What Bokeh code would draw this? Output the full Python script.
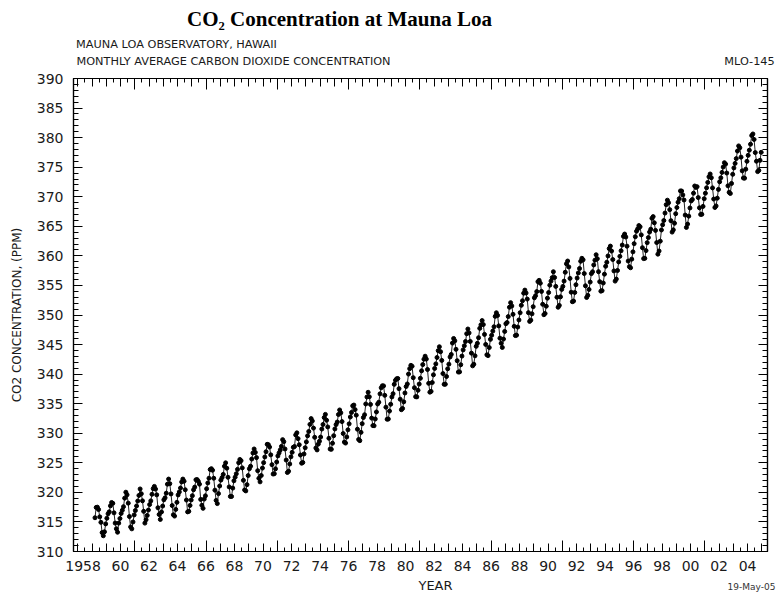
from bokeh.plotting import figure
from bokeh.models import Range1d, FixedTicker, LinearAxis
from bokeh.embed import file_html
from bokeh.resources import INLINE

# ---- Monthly mean CO2 (ppm) at Mauna Loa, one list per year ----
first_month_1958 = 3  # record starts in March 1958
co2_1958 = [315.71, 317.45, 317.50, 317.10, 315.86, 314.93, 313.20, 312.66, 313.33, 314.67]
co2_1959 = [315.62, 316.38, 316.71, 317.72, 318.29, 318.15, 316.54, 314.80, 313.84, 313.26, 314.80, 315.58]
co2_1960 = [316.43, 316.97, 317.58, 319.02, 320.03, 319.59, 318.18, 315.91, 314.16, 313.83, 315.00, 316.19]
co2_1961 = [316.93, 317.70, 318.54, 319.48, 320.58, 319.77, 318.57, 316.79, 314.80, 315.38, 316.10, 317.01]
co2_1962 = [317.94, 318.56, 319.68, 320.63, 321.01, 320.55, 319.58, 317.40, 316.26, 315.42, 316.69, 317.69]
co2_1963 = [318.74, 319.08, 319.86, 321.39, 322.25, 321.47, 319.74, 317.77, 316.21, 315.99, 317.12, 318.31]
co2_1964 = [319.57, 320.07, 320.73, 321.77, 322.25, 321.89, 320.44, 318.70, 316.70, 316.79, 317.79, 318.71]
co2_1965 = [319.44, 320.44, 320.89, 322.13, 322.16, 321.87, 321.39, 318.81, 317.81, 317.30, 318.87, 319.42]
co2_1966 = [320.62, 321.59, 322.39, 323.87, 324.01, 323.75, 322.39, 320.37, 318.64, 318.10, 319.79, 321.08]
co2_1967 = [322.07, 322.50, 323.04, 324.42, 325.00, 324.09, 322.55, 320.92, 319.31, 319.31, 320.72, 321.96]
co2_1968 = [322.57, 323.15, 323.89, 325.02, 325.57, 325.36, 324.14, 322.03, 320.41, 320.25, 321.31, 322.84]
co2_1969 = [324.00, 324.42, 325.64, 326.66, 327.34, 326.76, 325.88, 323.67, 322.38, 321.78, 322.85, 324.11]
co2_1970 = [325.03, 325.99, 326.87, 328.13, 328.07, 327.66, 326.35, 324.69, 323.10, 323.16, 323.98, 325.13]
co2_1971 = [326.17, 326.68, 327.18, 327.78, 328.92, 328.57, 327.34, 325.46, 323.36, 323.57, 324.80, 326.01]
co2_1972 = [326.77, 327.63, 327.75, 329.72, 330.07, 329.09, 328.05, 326.32, 324.93, 325.06, 326.50, 327.55]
co2_1973 = [328.54, 329.56, 330.30, 331.50, 332.48, 332.07, 330.87, 329.31, 327.51, 327.18, 328.16, 328.64]
co2_1974 = [329.35, 330.71, 331.48, 332.65, 333.19, 332.20, 331.07, 329.15, 327.33, 327.28, 328.31, 329.58]
co2_1975 = [330.73, 331.46, 331.90, 333.17, 333.94, 333.45, 331.97, 329.95, 328.50, 328.34, 329.37, 330.58]
co2_1976 = [331.59, 332.75, 333.52, 334.64, 334.77, 334.00, 333.06, 330.68, 328.95, 328.75, 330.15, 331.62]
co2_1977 = [332.66, 333.13, 334.95, 336.13, 336.93, 336.17, 334.88, 332.56, 331.29, 331.27, 332.41, 333.60]
co2_1978 = [334.95, 335.25, 336.66, 337.69, 338.03, 338.01, 336.41, 334.41, 332.37, 332.41, 333.75, 334.90]
co2_1979 = [336.14, 336.69, 338.27, 338.95, 339.21, 339.26, 337.54, 335.75, 333.98, 334.19, 335.31, 336.81]
co2_1980 = [337.90, 338.34, 340.01, 340.93, 341.48, 341.33, 339.40, 337.70, 336.19, 336.15, 337.27, 338.32]
co2_1981 = [339.29, 340.55, 341.61, 342.53, 343.03, 342.54, 340.78, 338.44, 336.95, 337.08, 338.58, 339.88]
co2_1982 = [340.96, 341.73, 342.81, 343.97, 344.63, 343.79, 342.32, 340.09, 338.28, 338.29, 339.60, 340.90]
co2_1983 = [341.68, 342.90, 343.33, 345.25, 346.03, 345.63, 344.19, 342.27, 340.35, 340.38, 341.59, 343.05]
co2_1984 = [344.10, 344.79, 345.52, 346.84, 347.63, 346.97, 345.53, 343.55, 341.40, 341.67, 343.10, 344.70]
co2_1985 = [345.21, 346.16, 347.74, 348.34, 349.06, 348.38, 346.72, 345.02, 343.27, 343.13, 344.49, 345.88]
co2_1986 = [346.56, 347.28, 348.01, 349.77, 350.38, 349.93, 348.16, 346.08, 345.22, 344.51, 345.93, 347.22]
co2_1987 = [348.52, 348.73, 349.73, 351.31, 352.09, 351.53, 350.11, 348.08, 346.52, 346.59, 347.96, 349.16]
co2_1988 = [350.39, 351.64, 352.41, 353.69, 354.21, 353.72, 352.69, 350.40, 348.92, 349.13, 350.20, 351.41]
co2_1989 = [352.91, 353.27, 353.96, 355.64, 355.86, 355.37, 353.99, 351.81, 350.05, 350.25, 351.49, 352.85]
co2_1990 = [353.80, 355.04, 355.73, 356.32, 357.32, 356.34, 354.84, 353.01, 351.31, 351.62, 353.07, 354.33]
co2_1991 = [354.84, 355.73, 357.23, 358.66, 359.13, 358.13, 356.19, 353.85, 352.25, 352.35, 353.81, 355.12]
co2_1992 = [356.25, 357.11, 357.86, 359.09, 359.59, 359.33, 357.01, 354.94, 352.96, 353.32, 354.32, 355.57]
co2_1993 = [357.00, 357.31, 358.47, 359.27, 360.19, 359.52, 357.33, 355.64, 354.03, 354.12, 355.41, 356.91]
co2_1994 = [358.24, 358.92, 359.99, 361.23, 361.65, 360.81, 359.38, 357.46, 355.73, 356.07, 357.53, 358.98]
co2_1995 = [359.92, 360.86, 361.83, 363.30, 363.69, 363.19, 361.64, 359.12, 358.17, 357.99, 359.45, 360.68]
co2_1996 = [362.07, 363.24, 364.17, 364.57, 365.13, 364.92, 363.55, 361.38, 359.54, 359.58, 360.89, 362.24]
co2_1997 = [363.09, 364.03, 364.51, 366.35, 366.64, 365.59, 364.31, 362.25, 360.29, 360.82, 362.49, 364.38]
co2_1998 = [365.26, 365.98, 367.24, 368.66, 369.42, 368.99, 367.82, 365.95, 364.02, 364.40, 365.52, 367.13]
co2_1999 = [368.18, 369.07, 369.68, 370.99, 370.96, 370.30, 369.45, 366.90, 364.81, 365.37, 366.72, 368.10]
co2_2000 = [369.29, 369.54, 370.60, 371.82, 371.58, 371.70, 369.86, 368.13, 367.00, 367.03, 368.37, 369.67]
co2_2001 = [370.59, 371.51, 372.43, 373.37, 373.85, 373.22, 371.50, 369.61, 368.18, 368.45, 369.76, 371.24]
co2_2002 = [372.53, 373.20, 374.12, 375.02, 375.76, 375.52, 374.01, 371.85, 370.75, 370.55, 372.25, 373.79]
co2_2003 = [374.88, 375.64, 376.45, 377.73, 378.60, 378.28, 376.70, 374.38, 373.17, 373.14, 374.66, 375.99]
co2_2004 = [377.00, 377.87, 378.88, 380.35, 380.62, 379.69, 377.47, 376.01, 374.25, 374.46, 376.16, 377.51]

yearly_series = [
    (1958, co2_1958), (1959, co2_1959), (1960, co2_1960), (1961, co2_1961), (1962, co2_1962),
    (1963, co2_1963), (1964, co2_1964), (1965, co2_1965), (1966, co2_1966), (1967, co2_1967),
    (1968, co2_1968), (1969, co2_1969), (1970, co2_1970), (1971, co2_1971), (1972, co2_1972),
    (1973, co2_1973), (1974, co2_1974), (1975, co2_1975), (1976, co2_1976), (1977, co2_1977),
    (1978, co2_1978), (1979, co2_1979), (1980, co2_1980), (1981, co2_1981), (1982, co2_1982),
    (1983, co2_1983), (1984, co2_1984), (1985, co2_1985), (1986, co2_1986), (1987, co2_1987),
    (1988, co2_1988), (1989, co2_1989), (1990, co2_1990), (1991, co2_1991), (1992, co2_1992),
    (1993, co2_1993), (1994, co2_1994), (1995, co2_1995), (1996, co2_1996), (1997, co2_1997),
    (1998, co2_1998), (1999, co2_1999), (2000, co2_2000), (2001, co2_2001), (2002, co2_2002),
    (2003, co2_2003), (2004, co2_2004),
]

year_ticks = list(range(1957, 2006))
half_year_ticks = [y + 0.5 for y in range(1956, 2006)]
five_year_ticks = list(range(1961, 2006, 5))
labelled_years = list(range(1958, 2005, 2))
ppm_major_ticks = list(range(310, 391, 5))
ppm_minor_ticks = list(range(310, 391))

TITLE = "CO\u2082 Concentration at Mauna Loa"
HEADER_1 = "MAUNA LOA OBSERVATORY, HAWAII"
HEADER_2 = "MONTHLY AVERAGE CARBON DIOXIDE CONCENTRATION"
CHART_ID = "MLO-145"
X_TITLE = "YEAR"
Y_TITLE = "CO2 CONCENTRATION, (PPM)"
DATE_STAMP = "19-May-05"

# decimal dates (mid-month)
xs, ys = [], []
for year, vals in yearly_series:
    m0 = first_month_1958 if year == 1958 else 1
    for i, v in enumerate(vals):
        xs.append(year + (m0 + i - 0.5) / 12.0)
        ys.append(v)

# ---- layout ----
X0, X1 = 1956.70, 2005.40
FRAME_W, FRAME_H = 694, 473
PX_PER_YEAR = FRAME_W / (X1 - X0)


def year_at_offset(px):
    """data x lying px pixels right of the frame's left edge (used to place header texts)"""
    return round(X0 + px / PX_PER_YEAR, 4)


FONT = "DejaVu Sans"
SERIF = "Liberation Serif"
INK = "#1a1a1a"

p = figure(frame_width=FRAME_W, frame_height=FRAME_H,
           x_range=Range1d(X0, X1), y_range=Range1d(310, 390),
           output_backend="svg", toolbar_location=None,
           x_axis_location=None, y_axis_location=None,
           min_border_left=73, min_border_right=9, min_border_top=78, min_border_bottom=45)
p.grid.visible = False
p.outline_line_color = "black"
p.outline_line_width = 1.2
p.background_fill_color = "white"
p.border_fill_color = "white"


def tick_axis(ticks, minor, tick_major, tick_minor, line=True):
    ax = LinearAxis(ticker=FixedTicker(ticks=ticks, minor_ticks=minor))
    ax.major_tick_in = tick_major
    ax.major_tick_out = 0
    ax.minor_tick_in = tick_minor
    ax.minor_tick_out = 0
    ax.axis_line_color = "black" if line else None
    ax.axis_line_width = 1.2
    ax.major_tick_line_color = "black"
    ax.minor_tick_line_color = "black"
    ax.major_label_overrides = {t: "" for t in ticks}
    ax.major_label_text_font_size = "0px"
    ax.major_label_standoff = 0
    return ax


def text_axis(items, font, size, standoff, style="normal", color=INK):
    """an axis with no line and no ticks, used only to carry text at given x positions"""
    ticks = [x for x, _ in items]
    ax = LinearAxis(ticker=FixedTicker(ticks=ticks, minor_ticks=[]))
    ax.major_label_overrides = {x: t for x, t in items}
    ax.axis_line_color = None
    ax.major_tick_line_color = None
    ax.minor_tick_line_color = None
    ax.major_tick_in = 0
    ax.major_tick_out = 0
    ax.minor_tick_in = 0
    ax.minor_tick_out = 0
    ax.major_label_text_font = font
    ax.major_label_text_font_size = size
    ax.major_label_text_font_style = style
    ax.major_label_text_color = color
    ax.major_label_standoff = standoff
    return ax


# frame ticks on all four sides (pointing inwards)
for side in ("below", "above"):
    p.add_layout(tick_axis(year_ticks, half_year_ticks, 8, 4), side)
    p.add_layout(tick_axis(five_year_ticks, [], 11, 0, line=False), side)
p.add_layout(tick_axis(ppm_major_ticks, ppm_minor_ticks, 9, 5), "right")

yl = LinearAxis(ticker=FixedTicker(ticks=ppm_major_ticks, minor_ticks=ppm_minor_ticks))
yl.major_tick_in = 9
yl.major_tick_out = 0
yl.minor_tick_in = 5
yl.minor_tick_out = 0
yl.axis_line_color = "black"
yl.axis_line_width = 1.2
yl.major_tick_line_color = "black"
yl.minor_tick_line_color = "black"
yl.major_label_standoff = 10
yl.major_label_text_font = FONT
yl.major_label_text_font_size = "14px"
yl.major_label_text_color = INK
yl.axis_label = Y_TITLE
yl.axis_label_text_font = FONT
yl.axis_label_text_font_size = "12px"
yl.axis_label_text_font_style = "normal"
yl.axis_label_text_color = INK
yl.axis_label_standoff = 10
p.add_layout(yl, "left")

# year labels: "1958" written in full, its "58" centred on the tick
shift_1958 = round(8.9 / PX_PER_YEAR, 4)
year_items = [(1958 - shift_1958, "1958")] + [(y, f"{y % 100:02d}") for y in labelled_years[1:]]
p.add_layout(text_axis(year_items, FONT, "14px", 9), "below")
p.add_layout(text_axis([(year_at_offset(362), X_TITLE)], FONT, "13px", 4), "below")
p.add_layout(text_axis([(year_at_offset(678), DATE_STAMP)], FONT, "9px", -14, color="#333333"), "below")

# header texts above the frame
p.add_layout(text_axis([(year_at_offset(160), HEADER_2), (year_at_offset(676), CHART_ID)], FONT, "11.3px", 11), "above")
p.add_layout(text_axis([(year_at_offset(103), HEADER_1)], FONT, "11.3px", 1), "above")
p.add_layout(text_axis([(year_at_offset(266), TITLE)], SERIF, "21px", 4, style="bold", color="black"), "above")

p.line(xs, ys, line_color="#222222", line_width=1.0)
p.scatter(xs, ys, size=4, fill_color="black", line_color="black")

open("out.html", "w").write(file_html(p, INLINE))
